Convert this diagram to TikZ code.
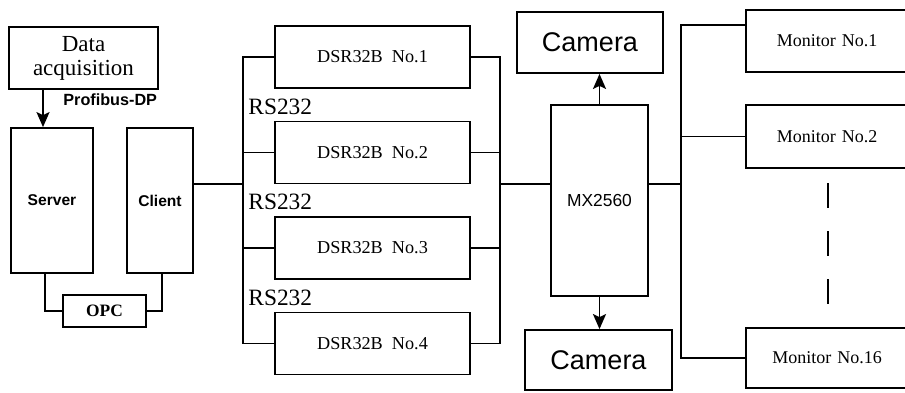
\documentclass[tikz,border=0pt]{standalone}
\usepackage{fontspec}
\setmainfont{Liberation Serif}
\setsansfont{Liberation Sans}
\usepackage{tikz}
\usetikzlibrary{arrows.meta}

\begin{document}
\begin{tikzpicture}[
    x=0.5pt, y=-0.5pt,
    box/.style={draw, line width=0.9pt, inner sep=0pt, align=center},
    arrow/.style={-{Stealth[length=7.5pt,width=6.5pt,inset=1.5pt]}, line width=0.9pt},
    wire/.style={line width=0.9pt},
    tag/.style={font=\fontsize{11.7}{13}\selectfont, anchor=west, inner sep=0pt}
]
\useasboundingbox (0,0) rectangle (905,392);
% left part
\node[box, minimum width=74.5pt, minimum height=31pt, font=\fontsize{11.5}{12}\selectfont] (daq) at (83.5,58) {Data\\acquisition};
\node[box, minimum width=41pt, minimum height=72.5pt, font=\sffamily\bfseries\fontsize{7.8}{9}\selectfont] (server) at (52,200.5) {Server};
\node[box, minimum width=33pt, minimum height=72.5pt, font=\sffamily\bfseries\fontsize{7.8}{9}\selectfont] (client) at (160,200.5) {Client};
\node[box, minimum width=41.5pt, minimum height=16pt, font=\bfseries\fontsize{8.7}{10}\selectfont] (opc) at (104.5,311) {OPC};
\node[font=\sffamily\bfseries\fontsize{8.1}{9}\selectfont, anchor=west, inner sep=0pt] (pdp) at (63,100) {Profibus-DP};
% recorders
\node[box, minimum width=97.5pt, minimum height=31pt, font=\fontsize{9.1}{10}\selectfont] (dsr1) at (372.5,57) {DSR32B\ \ No.1};
\node[box, minimum width=97.5pt, minimum height=31pt, font=\fontsize{9.1}{10}\selectfont] (dsr2) at (372.5,152.5) {DSR32B\ \ No.2};
\node[box, minimum width=97.5pt, minimum height=31pt, font=\fontsize{9.1}{10}\selectfont] (dsr3) at (372.5,248) {DSR32B\ \ No.3};
\node[box, minimum width=97.5pt, minimum height=31pt, font=\fontsize{9.1}{10}\selectfont] (dsr4) at (372.5,343.5) {DSR32B\ \ No.4};
\node[tag] (rs1) at (248,107) {RS232};
\node[tag] (rs2) at (248,202) {RS232};
\node[tag] (rs3) at (248,298) {RS232};
% matrix and cameras
\node[box, minimum width=48.5pt, minimum height=95.5pt, font=\sffamily\fontsize{8.7}{10}\selectfont] (mx) at (599.5,200.5) {MX2560};
\node[box, minimum width=73pt, minimum height=30.5pt, font=\sffamily\fontsize{13.5}{15}\selectfont] (cam1) at (590,42.5) {Camera};
\node[box, minimum width=73.5pt, minimum height=30pt, font=\sffamily\fontsize{13.5}{15}\selectfont] (cam2) at (598.5,360) {Camera};
% monitors
\node[box, minimum width=107pt, minimum height=31pt, text width=107pt, font=\fontsize{9}{10}\selectfont] (mon1) at (853,41) {\hspace*{-26pt}Monitor No.1};
\node[box, minimum width=107pt, minimum height=31.5pt, text width=107pt, font=\fontsize{9}{10}\selectfont] (mon2) at (853,136.5) {\hspace*{-26pt}Monitor No.2};
\node[box, minimum width=107pt, minimum height=30pt, text width=107pt, font=\fontsize{9}{10}\selectfont] (mon16) at (853,358) {\hspace*{-26pt}Monitor No.16};
% bus points
\coordinate (lbus) at (243,184);
\coordinate (rbus) at (500,184);
\coordinate (mbus) at (681,184);
% connections
\draw[arrow] (daq.south -| 43,0) -- (server.north -| 43,0);
\draw[wire] (server.south -| 45,0) |- (opc.west);
\draw[wire] (client.south -| 162,0) |- (opc.east);
\draw[wire] (client.east |- lbus) -- (lbus);
\draw[wire] (dsr1.west) -| (lbus |- dsr4.west) -- (dsr4.west);
\draw[wire] (dsr2.west) -- (dsr2.west -| lbus);
\draw[wire] (dsr3.west) -- (dsr3.west -| lbus);
\draw[wire] (dsr1.east) -| (rbus |- dsr4.east) -- (dsr4.east);
\draw[wire] (dsr2.east) -- (dsr2.east -| rbus);
\draw[wire] (dsr3.east) -- (dsr3.east -| rbus);
\draw[wire] (rbus) -- (mx.west |- rbus);
\draw[wire] (mx.east |- mbus) -- (mbus);
\draw[arrow] (mx.north) -- (mx.north |- cam1.south);
\draw[arrow] (mx.south) -- (mx.south |- cam2.north);
\draw[wire] ([yshift=8pt]mon1.west) -| (mbus |- mon16.west) -- (mon16.west);
\draw[wire] (mon2.west) -- (mon2.west -| mbus);
\draw[wire, dash pattern=on 12.5pt off 11.5pt] (828,183) -- (828,304);
\end{tikzpicture}
\end{document}
